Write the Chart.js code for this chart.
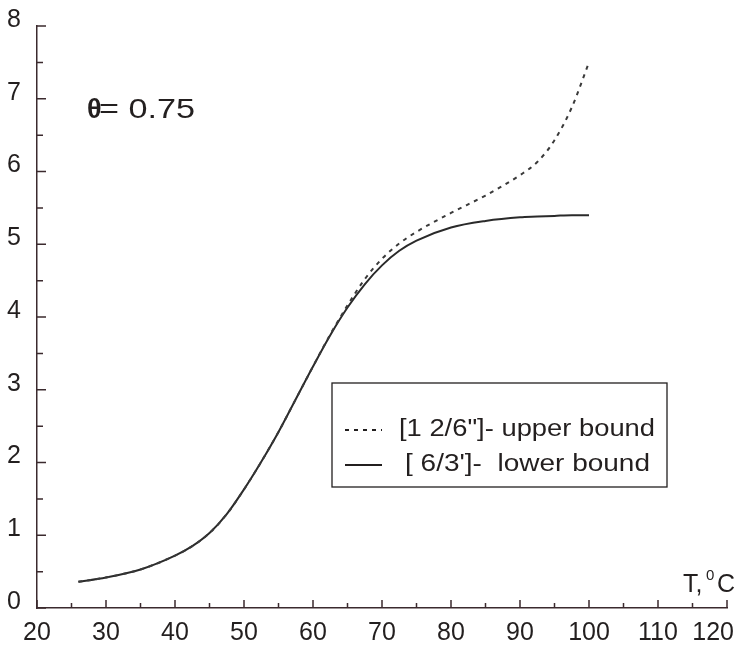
<!DOCTYPE html>
<html>
<head>
<meta charset="utf-8">
<script src="https://cdn.jsdelivr.net/npm/chart.js@4.4.0/dist/chart.umd.min.js"></script>
<style>
  html, body { margin: 0; padding: 0; background: #fff; }
  #wrap { width: 744px; height: 645px; }
</style>
</head>
<body>
<div id="wrap"><canvas id="chart"></canvas></div>
<script>
// temperature, deg C
const temps = [26, 30, 35, 40, 42.5, 45, 47.5, 50, 52.5, 55, 57.5, 60, 62.5, 65, 67.5, 70, 72.5, 75, 80, 85, 90, 92.5, 95, 97.5, 100];
// [6/3'] lower bound
const lowerBound = [0.36, 0.42, 0.53, 0.72, 0.85, 1.03, 1.29, 1.63, 2.01, 2.42, 2.87, 3.32, 3.75, 4.13, 4.45, 4.71, 4.91, 5.05, 5.23, 5.32, 5.37, 5.38, 5.39, 5.40, 5.40];
// [12/6"] upper bound
const upperBound = [0.36, 0.42, 0.53, 0.72, 0.85, 1.03, 1.29, 1.63, 2.01, 2.42, 2.87, 3.32, 3.76, 4.16, 4.52, 4.80, 5.01, 5.17, 5.43, 5.67, 5.95, 6.13, 6.43, 6.88, 7.50];
const legendLabels = ['[1 2/6"]- upper bound', '[ 6/3\']-  lower bound'];
const thetaLabel = '0.75';

const ink = '#231f1f';
const axisInk = '#3b2a2e';
const font = '"Liberation Sans", Arial, sans-serif';

const toPoints = ys => temps.map((t, i) => ({ x: t, y: ys[i] }));

// draw text squeezed/stretched to a given width
function fitText(ctx, text, x, y, width) {
  const w = ctx.measureText(text).width;
  ctx.save();
  ctx.translate(x, y);
  ctx.scale(width / w, 1);
  ctx.fillText(text, 0, 0);
  ctx.restore();
}

// inward ticks, legend box and free text
const decorations = {
  id: 'decorations',
  afterDraw(chart) {
    const { ctx, scales: { x, y } } = chart;
    ctx.save();
    ctx.strokeStyle = axisInk;
    ctx.lineWidth = 1.5;
    ctx.beginPath();
    for (let t = 20; t <= 120; t += 5) {
      const px = x.getPixelForValue(t);
      const len = t % 10 === 0 ? 8 : 5;
      ctx.moveTo(px, y.bottom);
      ctx.lineTo(px, y.bottom - len);
    }
    for (let v = 0; v <= 8; v += 0.5) {
      const py = y.getPixelForValue(v);
      const len = v % 1 === 0 ? 9 : 6;
      ctx.moveTo(x.left, py);
      ctx.lineTo(x.left + len, py);
    }
    ctx.stroke();

    // legend box
    ctx.strokeStyle = ink;
    ctx.lineWidth = 1.3;
    ctx.strokeRect(332, 383, 335, 104);
    ctx.lineWidth = 1.8;
    ctx.setLineDash([4, 5]);
    ctx.beginPath();
    ctx.moveTo(345, 430); ctx.lineTo(382, 430);
    ctx.stroke();
    ctx.setLineDash([]);
    ctx.beginPath();
    ctx.moveTo(345, 465); ctx.lineTo(382, 465);
    ctx.stroke();

    ctx.fillStyle = ink;
    ctx.textBaseline = 'middle';
    ctx.font = '23px ' + font;
    fitText(ctx, legendLabels[0], 399, 430, 256);
    fitText(ctx, legendLabels[1], 405, 465, 245);

    // theta label
    ctx.font = 'bold 27px ' + font;
    ctx.fillText('\u03b8', 87, 111);
    ctx.font = '27px ' + font;
    fitText(ctx, '= ' + thetaLabel, 99, 111, 96);

    // axis title
    ctx.font = '25px ' + font;
    ctx.fillText('T,', 683, 585);
    ctx.font = '15px ' + font;
    ctx.fillText('0', 706, 576);
    ctx.font = '25px ' + font;
    ctx.fillText('C', 717, 585);
    ctx.restore();
  }
};

new Chart(document.getElementById('chart'), {
  type: 'line',
  data: {
    datasets: [{
      label: legendLabels[0],
      data: toPoints(upperBound),
      borderColor: '#3a3a3a',
      borderWidth: 2,
      borderDash: [4, 5],
      pointRadius: 0,
      cubicInterpolationMode: 'monotone'
    }, {
      label: legendLabels[1],
      data: toPoints(lowerBound),
      borderColor: '#2a2a2a',
      borderWidth: 2,
      pointRadius: 0,
      cubicInterpolationMode: 'monotone'
    }]
  },
  options: {
    responsive: true,
    maintainAspectRatio: false,
    animation: false,
    layout: { padding: { top: 26, right: 17, left: 0, bottom: 0 } },
    plugins: {
      legend: { display: false },
      tooltip: { enabled: false }
    },
    scales: {
      x: {
        type: 'linear',
        min: 20,
        max: 120,
        afterFit: s => { s.height = 37; s.paddingLeft = 0; s.paddingRight = 0; },
        grid: { display: false, drawTicks: false },
        border: { display: true, color: axisInk, width: 1.5 },
        ticks: {
          stepSize: 10, padding: 10, color: ink, font: { family: font, size: 25 },
          maxRotation: 0, minRotation: 0, autoSkip: false,
          // last label is pulled in a little, as in the original
          callback: v => v === 120 ? v + '    ' : String(v)
        }
      },
      y: {
        min: 0,
        max: 8,
        afterFit: s => { s.width = 37; s.paddingTop = 0; s.paddingBottom = 0; },
        grid: { display: false, drawTicks: false },
        border: { display: true, color: axisInk, width: 1.5 },
        ticks: { stepSize: 1, padding: 16, labelOffset: -6, color: ink, font: { family: font, size: 25 } }
      }
    }
  },
  plugins: [decorations]
});
</script>
</body>
</html>
